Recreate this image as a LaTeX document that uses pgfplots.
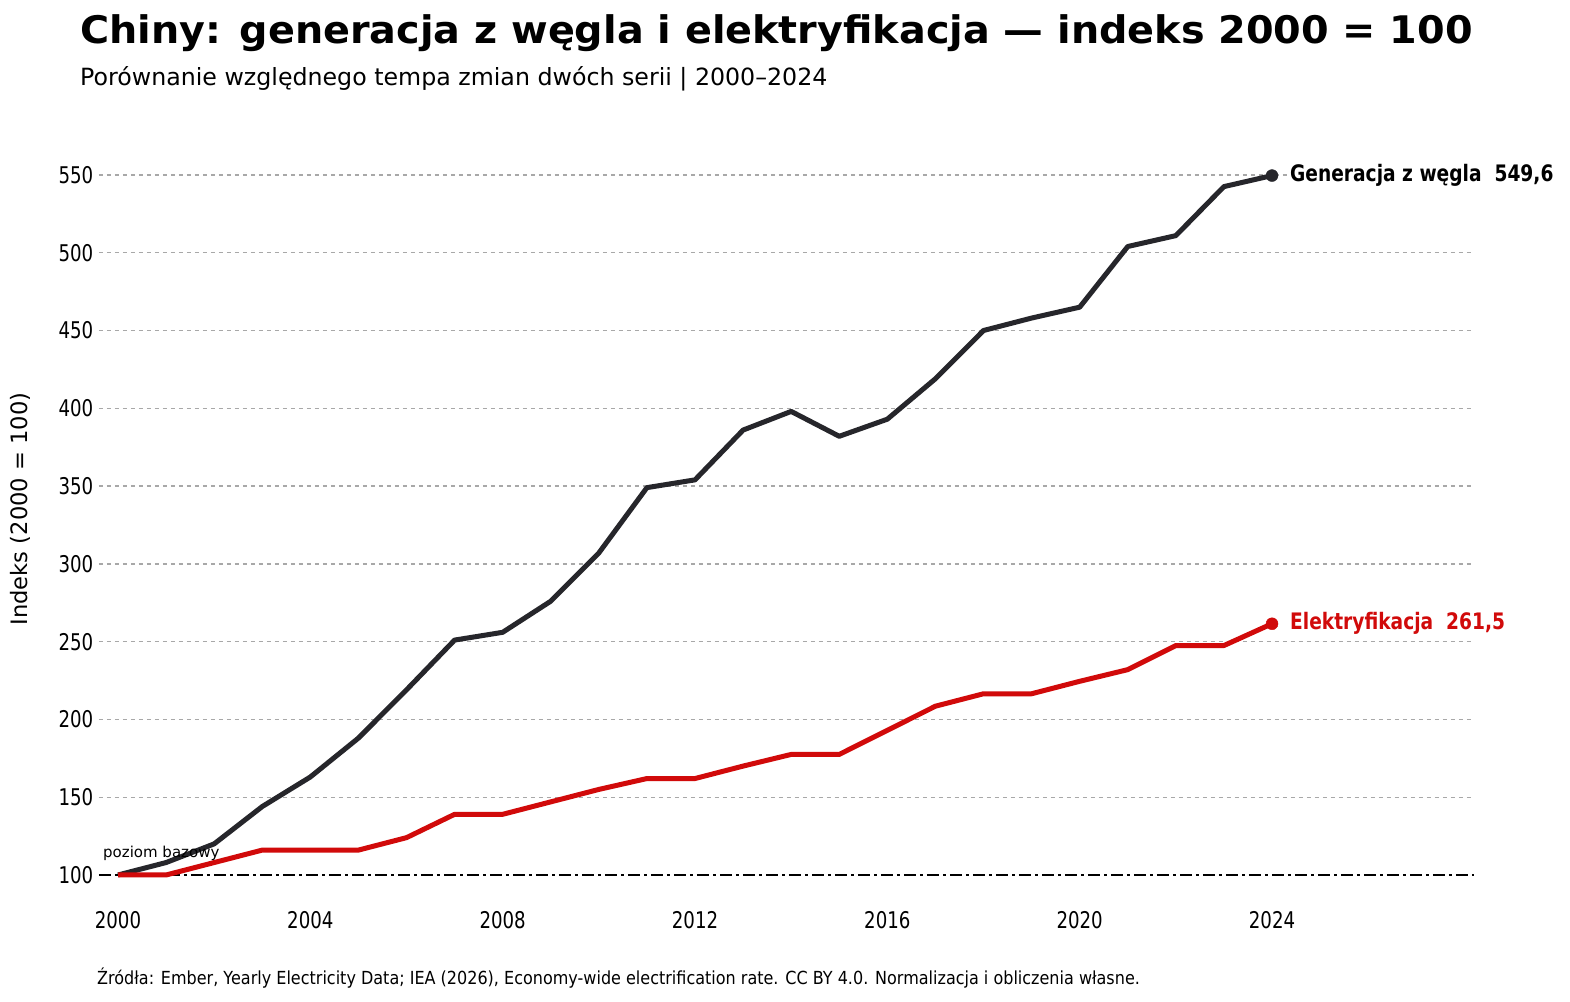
\documentclass[border=0pt]{standalone}
\usepackage{pgfplots}
\usepackage{pgfplotstable}
\pgfplotsset{compat=1.18}
\usepackage{fontspec}
\setmainfont{DejaVu Sans}
\newfontfamily\titlefont{DejaVu Sans}[FakeStretch=1.045]
\newfontfamily\tickfont{DejaVu Sans}[FakeStretch=0.79]
\newfontfamily\labfont{DejaVu Sans}[FakeStretch=0.82]
\newfontfamily\srcfont{DejaVu Sans}[FakeStretch=0.89]
\definecolor{coal}{HTML}{26262B}
\definecolor{elec}{HTML}{D10A0A}
\definecolor{gridc}{HTML}{A8A8A8}
\pgfplotstableread{
year coal elec
2000 100 100
2001 108 100
2002 120 108
2003 144 116
2004 163 116
2005 188 116
2006 219 124
2007 251 139
2008 256 139
2009 276 147
2010 307 155
2011 349 162
2012 354 162
2013 386 170
2014 398 177.5
2015 382 177.5
2016 393 193
2017 419 208.5
2018 450 216.5
2019 458 216.5
2020 465 224.5
2021 504 232
2022 511 247.5
2023 542.5 247.5
2024 549.6 261.5
}\data
\begin{document}
\begin{tikzpicture}
\path[use as bounding box, fill=white] (0pt,0pt) rectangle (1570pt,1001pt);
\node[anchor=base west, inner sep=0pt, font=\titlefont\fontsize{38}{44}\selectfont\bfseries] at (80pt,957pt) {Chiny: generacja z węgla i elektryfikacja — indeks 2000 = 100};
\node[anchor=base west, inner sep=0pt, font=\fontsize{23.7}{28}\selectfont] at (80pt,915pt) {Porównanie względnego tempa zmian dwóch serii | 2000–2024};
\node[anchor=center, rotate=90, inner sep=0pt, font=\fontsize{22.6}{27}\selectfont] at (20pt,492pt) {Indeks (2000 = 100)};
\node[anchor=base west, inner sep=0pt, font=\srcfont\fontsize{18}{22}\selectfont] at (97pt,17pt) {Źródła: Ember, Yearly Electricity Data; IEA (2026), Economy-wide electrification rate. CC BY 4.0. Normalizacja i obliczenia własne.};
\begin{axis}[
  at={(98.77pt,94.9pt)}, anchor=south west,
  scale only axis, width=1375.2pt, height=746.7pt,
  xmin=1999.6, xmax=2028.2, ymin=80, ymax=560,
  axis line style={draw=none},
  tick style={draw=none},
  xtick={2000,2004,...,2024},
  ytick={150,200,...,550},
  extra y ticks={100},
  extra y tick style={grid=none},
  ymajorgrids,
  grid style={gridc, line width=1.3pt, dash pattern=on 4pt off 4pt},
  x tick label style={/pgf/number format/1000 sep={}},
  ticklabel style={font=\tickfont\fontsize{23}{27}\selectfont},
  /pgf/number format/assume math mode=true,
  xticklabel style={yshift=-2pt},
  yticklabel style={xshift=-2pt},
  clip=false,
]
\addplot[black, line width=2.3pt, dash pattern=on 12pt off 4pt on 3pt off 4pt] coordinates {(1999.6,100) (2028.2,100)};
\addplot[coal, line width=5pt, line join=round] table[x=year,y=coal] {\data};
\addplot[elec, line width=5pt, line join=round] table[x=year,y=elec] {\data};
\addplot[only marks, mark=*, mark size=6pt, coal] coordinates {(2024,549.6)};
\addplot[only marks, mark=*, mark size=6pt, elec] coordinates {(2024,261.5)};
\node[anchor=west, inner sep=1pt, fill=white, xshift=17pt, font=\labfont\bfseries\fontsize{22.7}{26}\selectfont, text=black] at (axis cs:2024,549.6) {Generacja z węgla\ \ 549,6};
\node[anchor=west, inner sep=0pt, xshift=18pt, font=\labfont\bfseries\fontsize{22.7}{26}\selectfont, text=elec] at (axis cs:2024,261.5) {Elektryfikacja\ \ 261,5};
\node[anchor=base west, inner sep=0pt, xshift=-15pt, font=\fontsize{15}{18}\selectfont] at (axis cs:2000,111) {poziom bazowy};
\end{axis}
\end{tikzpicture}
\end{document}
